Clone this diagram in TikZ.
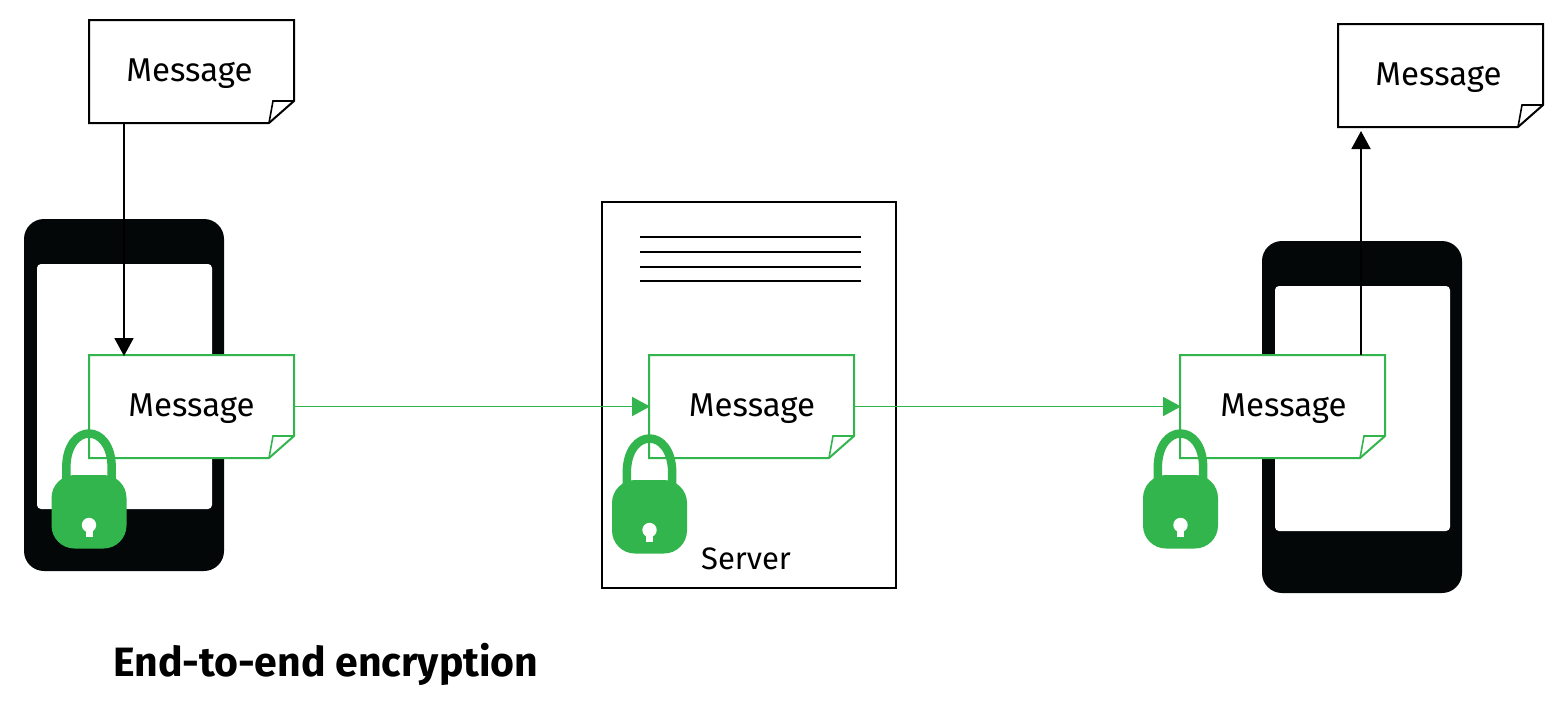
\documentclass[tikz,border=0pt]{standalone}
\usepackage{fontspec}
\setmainfont{Fira Sans}
\usetikzlibrary{arrows.meta}
\definecolor{lockgreen}{HTML}{33B54D}
\definecolor{phoneblack}{HTML}{040708}
\tikzset{
  x=1pt,y=-1pt,
  notebox/.style={minimum width=205pt,minimum height=103pt,inner sep=0pt,outer sep=0pt,font=\fontsize{33}{36}\selectfont},
  noteline/.style={line width=2pt,fill=white,line join=miter},
  flow/.style={line width=1.9pt,-{Triangle[length=18pt,width=19pt]},shorten >=-1pt},
  phonebody/.style={fill=phoneblack,rounded corners=20pt},
  phonescreen/.style={fill=white,rounded corners=4pt},
  lockshape/.style={fill=lockgreen},
}
% \notepaper[text x offset]{name}{cx}{cy}{colour}
\newcommand{\notepaper}[5][0]{%
  \node[notebox] (#2) at (#3,#4) {};
  \draw[noteline,draw=#5] (#2.north west) -- (#2.north east) -- ([yshift=22pt]#2.south east) -- ([xshift=-25pt]#2.south east) -- (#2.south west) -- cycle;
  \draw[line width=1.6pt,draw=#5] ([xshift=-25pt]#2.south east) -- ([xshift=-21pt,yshift=22pt]#2.south east) -- ([yshift=22pt]#2.south east);
  \node[notebox,anchor=center] (#2text) at (#3+#1,#4+2.5) {Message};
}
% \padlock{cx}{top of shackle}
\newcommand{\padlock}[2]{%
  \begin{scope}[shift={(#1,#2)}]
    \draw[lockgreen,line width=8.5pt] (-22.7,50) -- (-22.7,38) .. controls (-22.7,-8) and (22.7,-8) .. (22.7,38) -- (22.7,50);
    \fill[lockshape,rounded corners=23pt] (-37.5,45) rectangle (37.5,118.5);
    \fill[white] (0,95) circle (7.2pt);
    \fill[white] (-3.5,97) rectangle (3.5,107);
  \end{scope}
}
\begin{document}
\begin{tikzpicture}
\useasboundingbox (0,0) rectangle (1566,710);
% phones
\fill[phonebody] (24,219) rectangle (224,571);
\fill[phonescreen] (37,264) rectangle (212,509);
\fill[phonebody] (1262,241) rectangle (1462,593);
\fill[phonescreen] (1275,286) rectangle (1450,531);
% server
\node[draw=black,line width=2pt,fill=white,minimum width=294pt,minimum height=386pt,inner sep=0pt] (server) at (749,395) {};
\foreach \yy in {237,252,267,281}
  \draw[line width=1.8pt] (640,\yy) -- (861,\yy);
\node[font=\fontsize{31}{34}\selectfont,inner sep=0pt] (serverlabel) at (746,559) {Server};
% connectors beneath the notes
\notepaper[-2]{top1}{191.5}{71.5}{black}
\notepaper[-2]{top2}{1440.5}{75.5}{black}
\coordinate (a1s) at ([xshift=-67.5pt]top1.south);
\coordinate (a2n) at ([xshift=-79.5pt,yshift=-5pt]top2.south);
\notepaper{enc1}{191.5}{406.5}{lockgreen}
\notepaper[0.5]{enc2}{751.5}{406.5}{lockgreen}
\notepaper[1]{enc3}{1282.5}{406.5}{lockgreen}
\draw[flow,black] (a1s) -- (a1s |- enc1.north);
\draw[flow,black] (a2n |- enc3.north) -- (a2n);
\draw[flow,lockgreen] (enc1.east) -- (enc2.west);
\draw[flow,lockgreen] (enc2.east) -- (enc3.west);
% locks
\padlock{89}{430}
\padlock{649.5}{435}
\padlock{1180.5}{430}
% title
\node[anchor=west,inner sep=0pt,font=\fontsize{41}{46}\selectfont\bfseries] (title) at (113,664) {End-to-end encryption};
\end{tikzpicture}
\end{document}
